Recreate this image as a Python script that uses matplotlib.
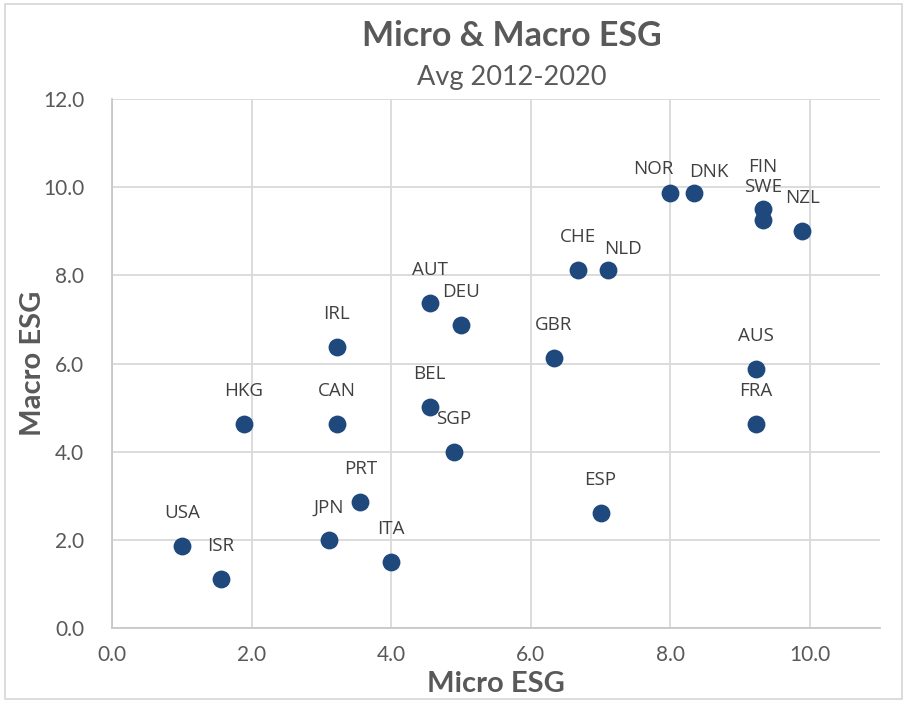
from matplotlib import pyplot as plt
from matplotlib.patches import Rectangle

# Country scores (Micro ESG, Macro ESG), averages 2012-2020
countries = ['USA', 'ISR', 'HKG', 'CAN', 'IRL', 'JPN', 'PRT', 'ITA',
             'AUT', 'DEU', 'BEL', 'SGP', 'GBR', 'CHE', 'NLD', 'ESP',
             'NOR', 'DNK', 'FIN', 'SWE', 'NZL', 'AUS', 'FRA']
micro_esg = [1.00, 1.56, 1.89, 3.22, 3.22, 3.11, 3.56, 4.00,
             4.55, 5.00, 4.55, 4.90, 6.33, 6.67, 7.11, 7.00,
             8.00, 8.34, 9.33, 9.33, 9.89, 9.22, 9.22]
macro_esg = [1.87, 1.12, 4.63, 4.63, 6.37, 1.99, 2.87, 1.50,
             7.38, 6.88, 5.01, 4.00, 6.13, 8.13, 8.13, 2.61,
             9.87, 9.87, 9.50, 9.25, 9.00, 5.88, 4.62]

x_ticks = [0, 2, 4, 6, 8, 10]
y_ticks = [0, 2, 4, 6, 8, 10, 12]

TEXT = '#595959'
GRID = '#d9d9d9'
DOT = '#1f497d'

# label offsets in pixels (most labels sit straight above the dot)
label_offsets = {'NOR': (-17, 24), 'DNK': (15, 21), 'NLD': (15, 21), 'FIN': (0, 42)}

plt.rcParams['font.family'] = ['Lato', 'DejaVu Sans']

fig = plt.figure(figsize=(9.07, 7.03), dpi=100)
ax = fig.add_axes([0.1235, 0.1067, 0.8465, 0.7523])

ax.scatter(micro_esg, macro_esg, s=165, color=DOT, zorder=3, linewidths=0)

for name, x, y in zip(countries, micro_esg, macro_esg):
    dx, dy = label_offsets.get(name, (0, 33))
    ax.annotate(name, (x, y), xytext=(dx, dy), textcoords='offset pixels',
                ha='center', va='center', fontsize=13.5, color='#404040',
                family=['Open Sans', 'DejaVu Sans'])

ax.set_xlim(0, 11)
ax.set_ylim(0, 12)
ax.set_xticks(x_ticks)
ax.set_yticks(y_ticks)
ax.set_xticklabels([f'{t:.1f}' for t in x_ticks])
ax.set_yticklabels([f'{t:.1f}' for t in y_ticks])
ax.tick_params(length=0, labelsize=15, labelcolor=TEXT)
ax.tick_params(axis='x', pad=12)
ax.tick_params(axis='y', pad=20)
ax.grid(True, color=GRID, linewidth=1.3)
ax.set_axisbelow(True)
for side in ['top', 'right']:
    ax.spines[side].set_visible(False)
for side in ['left', 'bottom']:
    ax.spines[side].set_color('#c8c8c8')
    ax.spines[side].set_linewidth(1.3)

fig.text(0.547, 0.027, 'Micro ESG', ha='center', va='center', fontsize=21,
         fontweight='bold', color=TEXT)
fig.text(0.036, 0.483, 'Macro ESG', ha='center', va='center', rotation=90,
         fontsize=21, fontweight='bold', color=TEXT)
fig.text(0.564, 0.949, 'Micro & Macro ESG', ha='center', va='center',
         fontsize=24.5, fontweight='bold', color=TEXT)
fig.text(0.564, 0.890, 'Avg 2012-2020', ha='center', va='center',
         fontsize=19.5, color=TEXT)

# thin grey frame around the whole chart
fig.patches.append(Rectangle((0.005, 0.005), 0.99, 0.99, transform=fig.transFigure,
                             fill=False, edgecolor=GRID, linewidth=1.3))

plt.savefig('out.png', dpi=100)
